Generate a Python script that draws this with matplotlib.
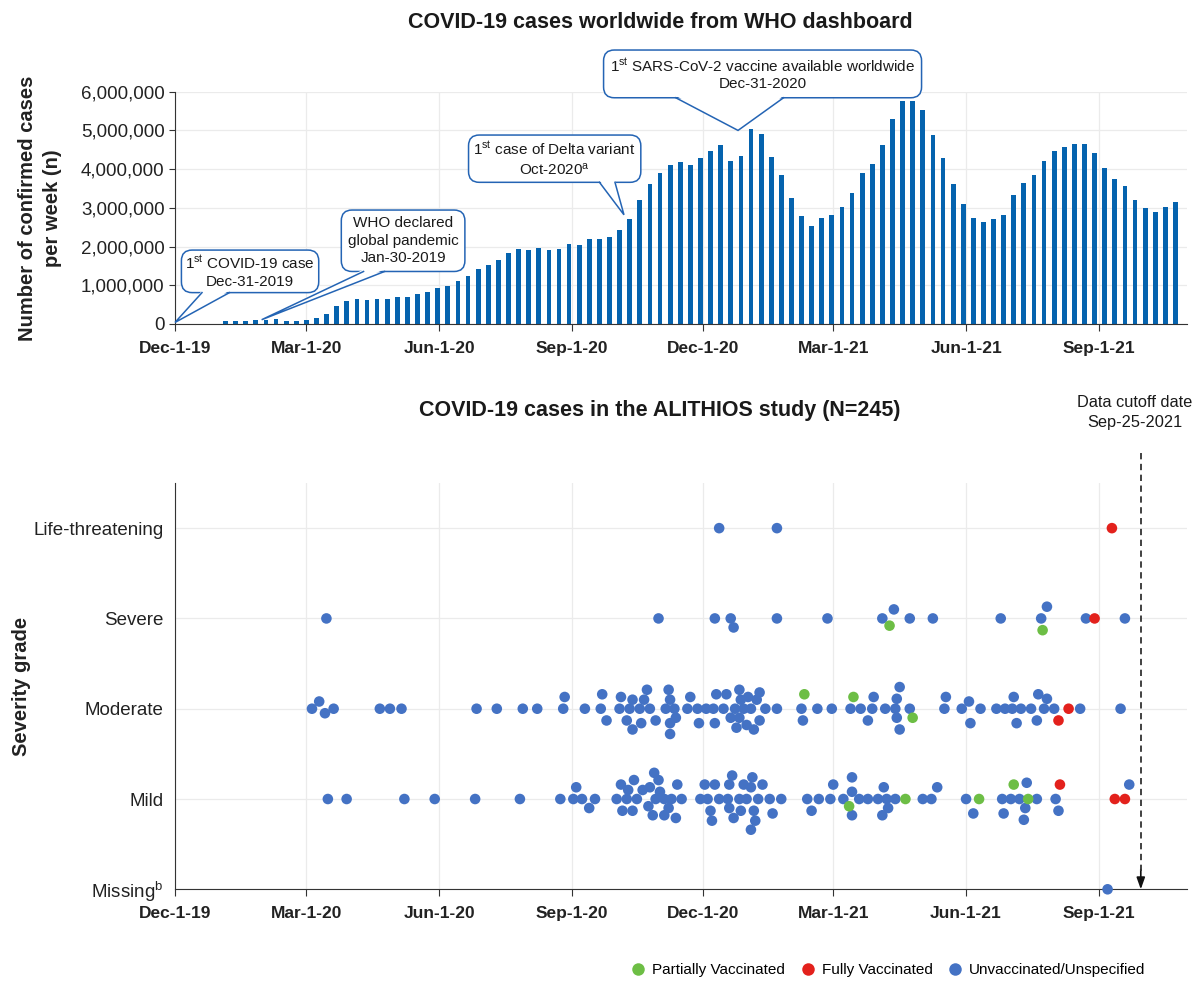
import numpy as np
import pandas as pd
import matplotlib
matplotlib.use('Agg')
import matplotlib.pyplot as plt
import matplotlib.dates as mdates
from matplotlib.ticker import FuncFormatter
from matplotlib.lines import Line2D
from matplotlib.patches import Polygon
from matplotlib.transforms import IdentityTransform

plt.rcParams['font.family'] = ['Liberation Sans', 'DejaVu Sans']
plt.rcParams['mathtext.fontset'] = 'custom'
plt.rcParams['mathtext.rm'] = 'Liberation Sans'
plt.rcParams['mathtext.it'] = 'Liberation Sans:italic'
plt.rcParams['mathtext.bf'] = 'Liberation Sans:bold'

# WHO dashboard: confirmed cases per week (millions), weekly from 2020-01-05
first_week = '2020-01-05'
weekly_cases_m = [
    0.09, 0.09, 0.09, 0.11, 0.11, 0.12, 0.09, 0.09, 0.11, 0.15,
    0.27, 0.46, 0.59, 0.64, 0.62, 0.65, 0.65, 0.69, 0.71, 0.78,
    0.82, 0.94, 0.99, 1.11, 1.23, 1.42, 1.53, 1.66, 1.83, 1.94,
    1.92, 1.97, 1.91, 1.95, 2.07, 2.03, 2.19, 2.19, 2.24, 2.44,
    2.70, 3.20, 3.62, 3.89, 4.11, 4.18, 4.10, 4.28, 4.46, 4.62,
    4.21, 4.33, 5.03, 4.92, 4.31, 3.84, 3.26, 2.80, 2.54, 2.75,
    2.82, 3.03, 3.39, 3.89, 4.14, 4.63, 5.29, 5.76, 5.76, 5.54,
    4.88, 4.28, 3.62, 3.11, 2.74, 2.63, 2.70, 2.81, 3.32, 3.63,
    3.86, 4.21, 4.46, 4.58, 4.64, 4.64, 4.41, 4.02, 3.74, 3.56,
    3.19, 2.99, 2.90, 3.02, 3.14,
]

tick_dates = ['2019-12-01', '2020-03-01', '2020-06-01', '2020-09-01',
              '2020-12-01', '2021-03-01', '2021-06-01', '2021-09-01']
tick_labels = ['Dec-1-19', 'Mar-1-20', 'Jun-1-20', 'Sep-1-20',
               'Dec-1-20', 'Mar-1-21', 'Jun-1-21', 'Sep-1-21']

severity_labels = ['Missing$^{\\mathrm{b}}$', 'Mild', 'Moderate', 'Severe', 'Life-threatening']

# ALITHIOS cases: (days since 2019-12-01, severity grade as drawn incl. vertical spread)
# grade: 0 missing, 1 mild, 2 moderate, 3 severe, 4 life-threatening
partial_cases = [(436, 2.16), (470, 2.13), (511, 1.90), (467, 0.92), (506, 1), (557, 1),
                 (581, 1.16), (591, 1), (495, 2.92), (601, 2.87)]
full_cases = [(612, 1.87), (619, 2), (613, 1.16), (651, 1), (658, 1), (637, 3), (649, 4)]
unvacc_cases = [
    # moderate
    (95, 2), (100, 2.08), (104, 1.95), (110, 2), (142, 2), (149, 2), (157, 2), (209, 2),
    (223, 2), (241, 2), (251, 2), (270, 2.13), (269, 2), (284, 2), (296, 2.16), (295, 2),
    (299, 1.87), (308, 2), (309, 2.13), (313, 1.87), (315, 2), (317, 2.10), (317, 1.77),
    (322, 2), (323, 1.84), (325, 2.10), (327, 2.21), (329, 2), (333, 1.87), (340, 2),
    (342, 2.21), (343, 2.10), (346, 2), (347, 1.90), (343, 1.84), (343, 1.72), (355, 2),
    (357, 2.13), (362, 2), (363, 1.84), (368, 2), (373, 2), (374, 1.84), (375, 2.16),
    (380, 2), (382, 2.16), (385, 1.90), (388, 2), (389, 1.79), (391, 2.21), (392, 2.10),
    (391, 1.90), (394, 2), (396, 1.82), (397, 2.13), (399, 2), (401, 1.77), (403, 2.10),
    (405, 2.18), (405, 1.87), (409, 2), (417, 2), (434, 2), (435, 1.87), (445, 2),
    (455, 2), (468, 2), (475, 2), (480, 1.87), (483, 2), (484, 2.13), (492, 2), (499, 2),
    (500, 2.11), (502, 2.24), (500, 1.90), (502, 1.77), (509, 2), (534, 2.13), (533, 2),
    (545, 2), (550, 2.08), (551, 1.84), (558, 2), (569, 2), (575, 2), (581, 2.13),
    (580, 2), (583, 1.84), (586, 2), (593, 2), (598, 2.16), (597, 1.87), (602, 2),
    (604, 2.11), (609, 2), (627, 2), (655, 2),
    # mild
    (106, 1), (119, 1), (159, 1), (180, 1), (208, 1), (239, 1), (267, 1), (278, 1.13),
    (276, 1), (282, 1), (287, 0.90), (291, 1), (306, 1), (309, 1.16), (310, 0.87),
    (313, 1), (314, 1.10), (317, 0.87), (318, 1.21), (320, 1), (324, 1.10), (328, 0.92),
    (329, 1.13), (331, 0.82), (332, 1.29), (335, 1.21), (336, 1.08), (333, 1), (339, 1),
    (339, 0.82), (342, 0.90), (344, 1), (347, 0.79), (348, 1.16), (351, 1), (364, 1),
    (367, 1.16), (369, 1), (371, 0.87), (372, 0.76), (374, 1.16), (377, 1), (383, 1),
    (384, 1.16), (384, 0.90), (386, 1.26), (387, 0.79), (391, 1), (392, 0.87), (394, 1.16),
    (396, 1), (399, 1.13), (400, 1.24), (401, 0.87), (402, 0.76), (399, 0.66), (404, 1),
    (407, 1.16), (412, 1), (414, 0.84), (420, 1), (438, 1), (441, 0.87), (446, 1),
    (454, 1), (456, 1.16), (463, 1), (469, 1.08), (469, 1.24), (469, 0.82), (474, 1),
    (480, 1), (487, 1), (491, 1.13), (490, 0.82), (493, 1), (494, 0.90), (499, 1),
    (518, 1), (524, 1), (528, 1.13), (548, 1), (553, 0.84), (573, 1), (574, 0.84),
    (579, 1), (585, 1), (588, 0.77), (589, 0.90), (590, 1.18), (597, 1), (610, 1),
    (612, 0.87), (661, 1.16),
    # severe
    (105, 3), (335, 3), (374, 3), (385, 3), (387, 2.90), (417, 3), (452, 3), (490, 3),
    (498, 3.10), (509, 3), (525, 3), (572, 3), (600, 3), (604, 3.13), (631, 3), (658, 3),
    # life-threatening
    (377, 4), (417, 4),
    # missing
    (646, 0),
]

bar_blue = '#0563AE'
edge_blue = '#2464B4'
c_partial = '#6DBE45'
c_full = '#E3211C'
c_unvacc = '#4472C4'
grid_c = '#ebebeb'
dark = '#333333'

start = pd.Timestamp('2019-12-01')
x_end = pd.Timestamp('2021-11-01')
weeks = pd.date_range(first_week, periods=len(weekly_cases_m), freq='7D')
cases = np.array(weekly_cases_m) * 1e6


def to_dates(pairs):
    arr = np.array(pairs, dtype=float)
    return start + pd.to_timedelta(arr[:, 0], unit='D'), arr[:, 1]


fig = plt.figure(figsize=(12.04, 9.82), dpi=100)

# ---------------- top: WHO weekly cases ----------------
ax1 = fig.add_axes([175 / 1204, 1 - 324 / 982, 1012 / 1204, 232.3 / 982])
ax1.bar(weeks, cases, width=3.3, color=bar_blue, zorder=2)
ax1.set_xlim(start, x_end)
ax1.set_ylim(0, 6e6)
ax1.set_yticks(np.arange(0, 6.5e6, 1e6))
ax1.yaxis.set_major_formatter(FuncFormatter(lambda v, p: f'{v:,.0f}'))
ax1.set_xticks(pd.to_datetime(tick_dates))
ax1.set_xticklabels(tick_labels, fontweight='bold', fontsize=12.5)
ax1.tick_params(axis='y', labelsize=13.5, length=4, color=dark, labelcolor='#222222')
ax1.tick_params(axis='x', length=5, color=dark, pad=7, labelcolor='#222222')
ax1.grid(True, color=grid_c, lw=0.9, zorder=0)
ax1.set_axisbelow(True)
for s in ['top', 'right']:
    ax1.spines[s].set_visible(False)
for s in ['left', 'bottom']:
    ax1.spines[s].set_color(dark)
ax1.set_ylabel('Number of confirmed cases\nper week (n)', fontsize=14.5, fontweight='bold',
               color='#222222', linespacing=1.35)
ax1.yaxis.set_label_coords(-0.112, 0.5)

# callouts: text, box centre, pointer tip, pointer base as fraction of box width, box pad
callouts = [
    ('1$^{\\mathrm{st}}$ COVID-19 case\nDec-31-2019',
     (pd.Timestamp('2020-01-22'), 1.36e6), (start, 0.04e6), (0.15, 0.35), 0.25),
    ('WHO declared\nglobal pandemic\nJan-30-2019',
     (pd.Timestamp('2020-05-07'), 2.15e6), (pd.Timestamp('2020-01-30'), 0.11e6), (0.18, 0.35), 0.42),
    ('1$^{\\mathrm{st}}$ case of Delta variant\nOct-2020$^{\\mathrm{a}}$',
     (pd.Timestamp('2020-08-20'), 4.27e6), (pd.Timestamp('2020-10-07'), 2.82e6), (0.76, 0.85), 0.32),
    ('1$^{\\mathrm{st}}$ SARS-CoV-2 vaccine available worldwide\nDec-31-2020',
     (pd.Timestamp('2021-01-11'), 6.46e6), (pd.Timestamp('2020-12-25'), 5.0e6), (0.227, 0.566), 0.42),
]
boxes = []
for text, at, tip, base, pad in callouts:
    box = dict(boxstyle=f'round,pad={pad},rounding_size=0.7', fc='white', ec=edge_blue, lw=1.1)
    t = ax1.text(at[0], at[1], text, ha='center', va='center', fontsize=11, color='#1a1a1a',
                 bbox=box, zorder=5, linespacing=1.3, clip_on=False)
    boxes.append((t, tip, base))

fig.text(660 / 1204, 1 - 22 / 982, 'COVID-19 cases worldwide from WHO dashboard',
         ha='center', va='center', fontsize=15.5, fontweight='bold', color='#1a1a1a')

# ---------------- bottom: ALITHIOS cases ----------------
ax2 = fig.add_axes([174.8 / 1204, 1 - 889.3 / 982, 1012.2 / 1204, 406.3 / 982])
for pairs, col in [(unvacc_cases, c_unvacc), (partial_cases, c_partial), (full_cases, c_full)]:
    d, g = to_dates(pairs)
    ax2.scatter(d, g, s=58, color=col, edgecolors='none', zorder=3, clip_on=False)

ax2.set_xlim(start, x_end)
ax2.set_ylim(0, 4.5)
ax2.set_yticks(range(5))
ax2.set_yticklabels(severity_labels, fontsize=13.5, color='#222222')
ax2.set_xticks(pd.to_datetime(tick_dates))
ax2.set_xticklabels(tick_labels, fontweight='bold', fontsize=12.5)
ax2.tick_params(axis='y', length=0, pad=8)
ax2.tick_params(axis='x', length=5, color=dark, pad=7, labelcolor='#222222')
ax2.grid(True, color=grid_c, lw=0.9, zorder=0)
ax2.set_axisbelow(True)
for s in ['top', 'right']:
    ax2.spines[s].set_visible(False)
for s in ['left', 'bottom']:
    ax2.spines[s].set_color(dark)
ax2.set_ylabel('Severity grade', fontsize=14.5, fontweight='bold', color='#222222')
ax2.yaxis.set_label_coords(-0.142, 0.5)

cut_line = pd.Timestamp('2021-09-30')
ax2.plot([cut_line, cut_line], [0.2, 4.87], ls=(0, (3.5, 2.5)), color=dark, lw=1.3,
         clip_on=False, zorder=4)
ax2.annotate('', xy=(cut_line, 0), xytext=(cut_line, 0.22), annotation_clip=False,
             arrowprops=dict(arrowstyle='-|>,head_length=0.7,head_width=0.25', color='#111111',
                             lw=1.2, shrinkA=0, shrinkB=0))
ax2.text(pd.Timestamp('2021-09-26'), 5.28, 'Data cutoff date\nSep-25-2021', ha='center',
         va='center', fontsize=11.8, color='#1a1a1a', clip_on=False, linespacing=1.35)

fig.text(660 / 1204, 1 - 410 / 982, 'COVID-19 cases in the ALITHIOS study (N=245)',
         ha='center', va='center', fontsize=15.5, fontweight='bold', color='#1a1a1a')

handles = [Line2D([], [], ls='none', marker='o', ms=9, mfc=c, mec='none', label=l)
           for c, l in [(c_partial, 'Partially Vaccinated'), (c_full, 'Fully Vaccinated'),
                        (c_unvacc, 'Unvaccinated/Unspecified')]]
fig.legend(handles=handles, loc='center', bbox_to_anchor=(888 / 1204, 1 - 970 / 982), ncol=3,
           frameon=False, fontsize=11, handletextpad=0.4, columnspacing=1.0, handlelength=1.0)

# speech-bubble pointers, joined to the bottom edge of each box
fig.canvas.draw()
for t, tip, base in boxes:
    bb = t.get_bbox_patch().get_window_extent()
    xa = bb.x0 + bb.width * base[0]
    xb = bb.x0 + bb.width * base[1]
    tx, ty = ax1.transData.transform((mdates.date2num(tip[0]), tip[1]))
    fig.add_artist(Polygon([(xa, bb.y0 + 2), (tx, ty), (xb, bb.y0 + 2)], closed=True,
                           fc='white', ec='none', transform=IdentityTransform(), zorder=6))
    fig.add_artist(Line2D([xa, tx, xb], [bb.y0, ty, bb.y0], color=edge_blue, lw=1.1,
                          solid_joinstyle='miter', transform=IdentityTransform(), zorder=7))

fig.savefig('out.png', dpi=100)
